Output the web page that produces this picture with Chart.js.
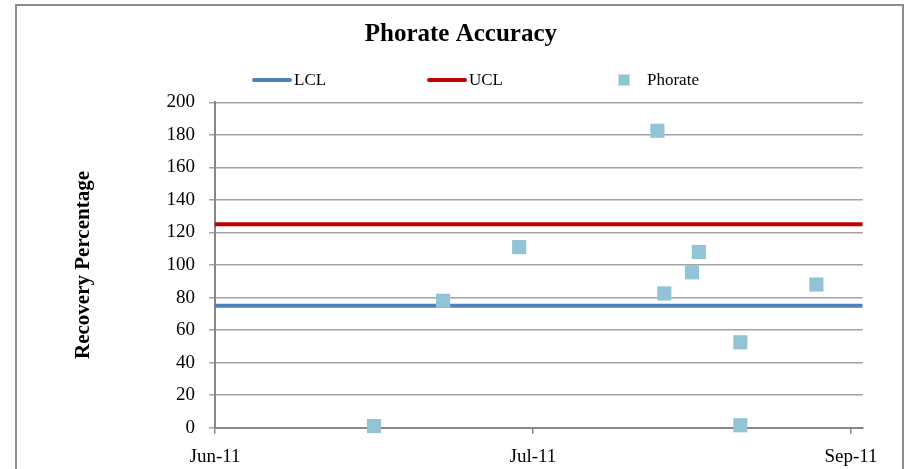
<!DOCTYPE html>
<html>
<head>
<meta charset="utf-8">
<title>Phorate Accuracy</title>
<script src="https://cdn.jsdelivr.net/npm/chart.js@4/dist/chart.umd.min.js"></script>
<style>
  html, body { margin: 0; padding: 0; background: #fff; }
  #wrap { position: relative; width: 909px; height: 469px; overflow: hidden; }
  #frame { position: absolute; left: 15px; top: 4px; width: 885px; height: 480px; border: 2px solid #8c8c8c; }
  #chart { position: absolute; left: 0; top: 0; }
</style>
</head>
<body>
<div id="wrap">
  <div id="frame"></div>
  <canvas id="chart" width="909" height="469"></canvas>
</div>
<script>
/* ── Data ─────────────────────────────────────────────────────────────── */
const sampleDates = ['2011-06-24', '2011-07-04', '2011-07-15', '2011-08-04', '2011-08-05',
                     '2011-08-09', '2011-08-10', '2011-08-16', '2011-08-16', '2011-08-27'];
const phorateRecovery = [1, 78, 111, 182.5, 82.5, 95.5, 108, 52.5, 1.5, 88];
const lclValue = 75;
const uclValue = 125;

const xTickDates  = ['2011-06-01', '2011-07-17', '2011-09-01'];
const xTickLabels = ['Jun-11', 'Jul-11', 'Sep-11'];
const xStartDate  = '2011-06-01';
const xEndDate    = '2011-09-02';
const yTicks = [0, 20, 40, 60, 80, 100, 120, 140, 160, 180, 200];

/* ── Helpers ──────────────────────────────────────────────────────────── */
const DAY = 86400000;
const toDay = s => { const [y, m, d] = s.split('-').map(Number); return Date.UTC(y, m - 1, d) / DAY; };

const xMin = toDay(xStartDate);
const xMax = toDay(xEndDate) + 0.7;
const xTickDays = xTickDates.map(toDay);

const FONT = '"Liberation Serif", "DejaVu Serif", serif';
const GRID = '#a3a3a3';
const AXIS = '#878787';

/* ── Legend drawn as one row, like the spreadsheet legend ─────────────── */
const LEGEND_Y = 80;
const LEGEND_ITEMS = [ { swatch: 272, text: 294 }, { swatch: 447, text: 469 }, { swatch: 624, text: 647 } ];

const rowLegend = {
  id: 'rowLegend',
  afterDraw(chart) {
    const ctx = chart.ctx;
    ctx.save();
    ctx.font = '17px ' + FONT;
    ctx.textBaseline = 'middle';
    chart.data.datasets.forEach((ds, i) => {
      const pos = LEGEND_ITEMS[i];
      if (ds.type === 'line') {
        ctx.strokeStyle = ds.borderColor;
        ctx.lineWidth = 4;
        ctx.lineCap = 'round';
        ctx.beginPath();
        ctx.moveTo(pos.swatch - 18, LEGEND_Y);
        ctx.lineTo(pos.swatch + 18, LEGEND_Y);
        ctx.stroke();
      } else {
        ctx.fillStyle = ds.backgroundColor;
        ctx.fillRect(pos.swatch - 5.5, LEGEND_Y - 5.5, 11, 11);
      }
      ctx.fillStyle = '#000';
      ctx.fillText(ds.label, pos.text, LEGEND_Y + 1);
    });
    ctx.restore();
  }
};

/* ── Chart ────────────────────────────────────────────────────────────── */
const limitLine = v => [{ x: xMin, y: v }, { x: xMax, y: v }];

new Chart(document.getElementById('chart'), {
  type: 'scatter',
  data: {
    datasets: [
      { type: 'line', label: 'LCL', data: limitLine(lclValue), borderColor: '#4f81bd',
        borderWidth: 4, pointRadius: 0, order: 1 },
      { type: 'line', label: 'UCL', data: limitLine(uclValue), borderColor: '#c00000',
        borderWidth: 4, pointRadius: 0, order: 1 },
      { type: 'scatter', label: 'Phorate',
        data: sampleDates.map((d, i) => ({ x: toDay(d), y: phorateRecovery[i] })),
        backgroundColor: '#93c4d6', borderColor: '#93c4d6', borderWidth: 0,
        pointStyle: 'rect', pointRadius: 10, order: 0, clip: false },
    ],
  },
  options: {
    responsive: false,
    animation: false,
    layout: { padding: { left: 59, right: 46.3, top: 0, bottom: 0 } },
    plugins: {
      legend: { display: false },
      tooltip: { enabled: false },
      title: {
        display: true, text: 'Phorate Accuracy', color: '#000',
        font: { family: FONT, size: 25, weight: 'bold' },
        padding: { top: 20, bottom: 52.3 },
      },
    },
    scales: {
      x: {
        type: 'linear', min: xMin, max: xMax,
        afterBuildTicks: s => { s.ticks = xTickDays.map(v => ({ value: v })); },
        afterFit: s => { s.height = 41.3; },
        ticks: {
          color: '#000', padding: 12, maxRotation: 0,
          font: { family: FONT, size: 19 },
          callback: v => xTickLabels[xTickDays.indexOf(v)],
        },
        grid: { drawOnChartArea: false, color: AXIS, tickLength: 6, lineWidth: 1.5 },
        border: { color: AXIS, width: 2 },
      },
      y: {
        min: 0, max: 200,
        afterBuildTicks: s => { s.ticks = yTicks.map(v => ({ value: v })); },
        afterFit: s => { s.width = 156; },
        title: {
          display: true, text: 'Recovery Percentage', color: '#000',
          font: { family: FONT, size: 21, weight: 'bold' },
          padding: { top: 12, bottom: 0 },
        },
        ticks: { color: '#000', padding: 14, font: { family: FONT, size: 19 } },
        grid: { color: GRID, lineWidth: 1.5, tickLength: 6 },
        border: { color: AXIS, width: 2 },
      },
    },
  },
  plugins: [rowLegend],
});
</script>
</body>
</html>
